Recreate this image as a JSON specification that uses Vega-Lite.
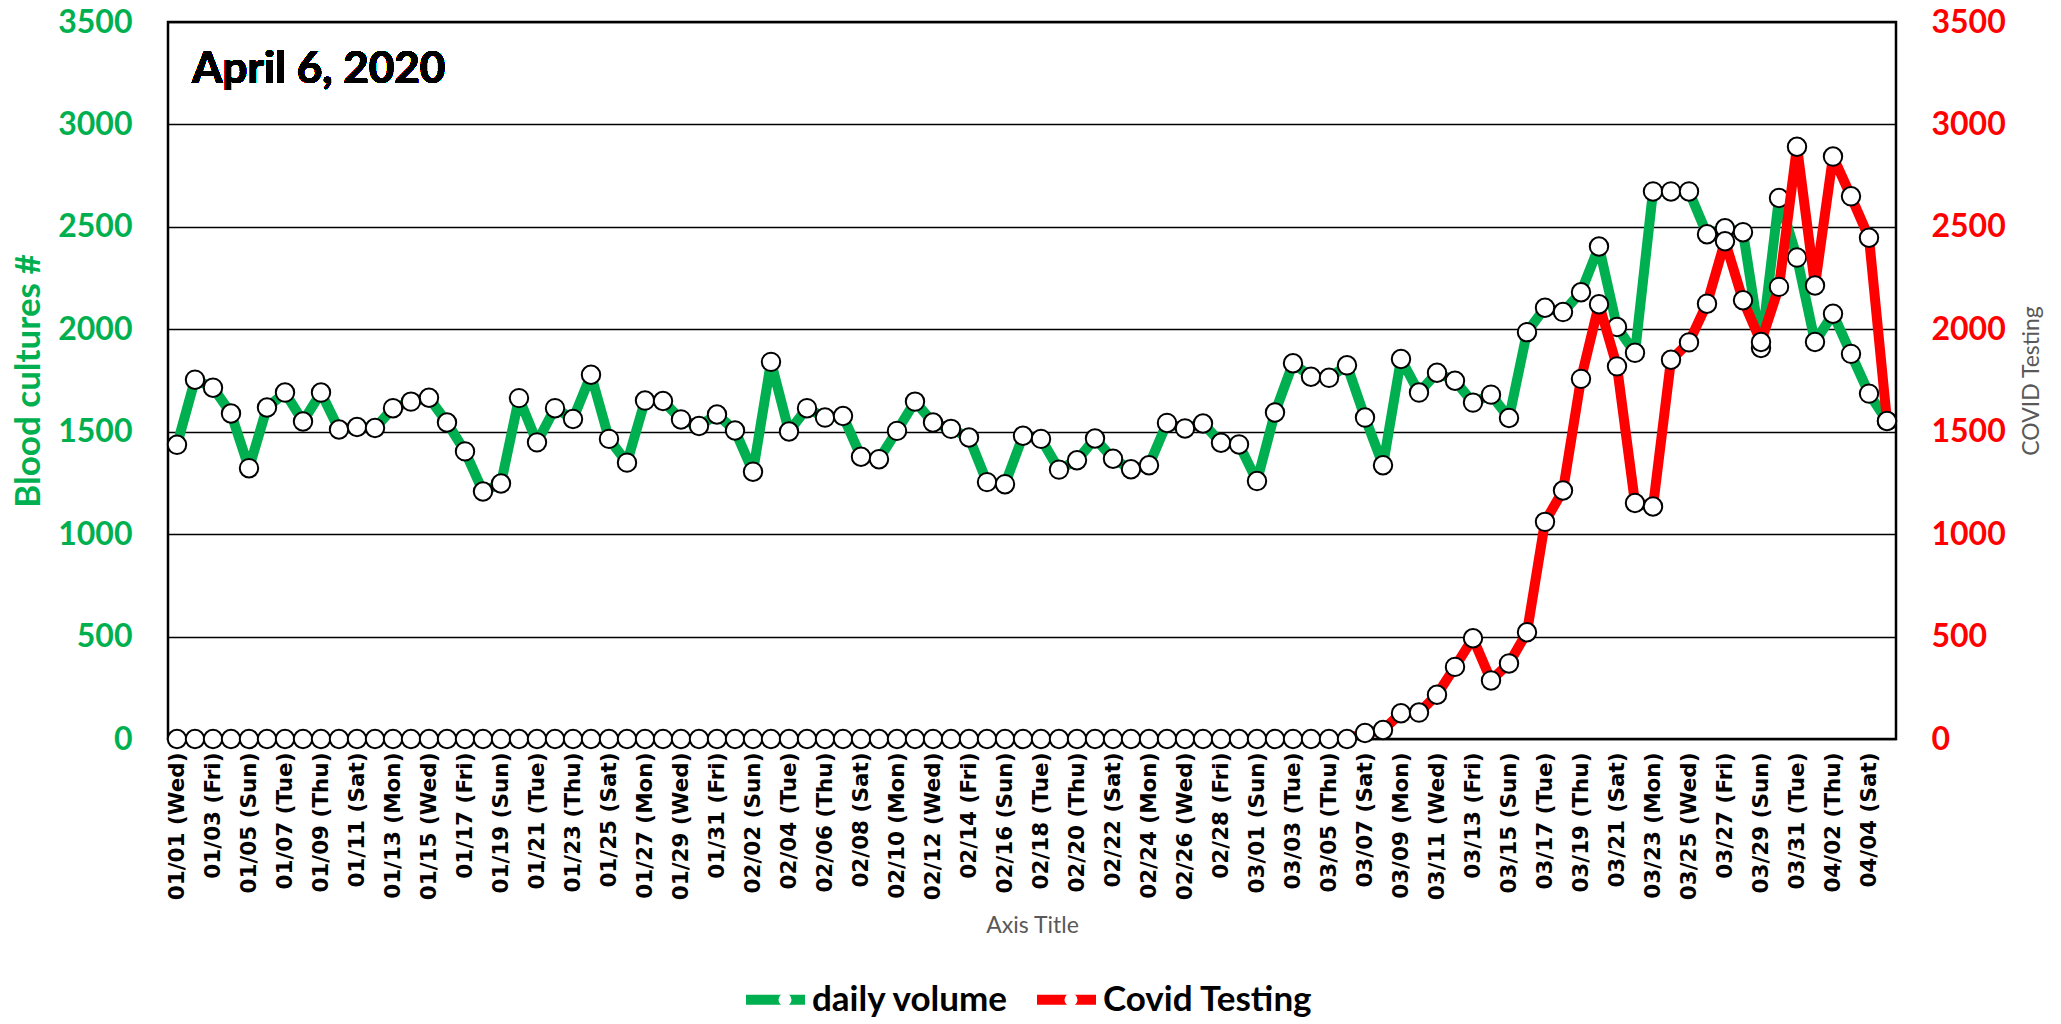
{
  "$schema": "https://vega.github.io/schema/vega-lite/v6.json",
  "width": 1728,
  "height": 717,
  "autosize": {"type": "none"},
  "padding": {"left": 168, "top": 22, "right": 165, "bottom": 285},
  "background": "white",
  "config": {"view": {"stroke": "black", "strokeWidth": 2.5}},
  "data": {"values": [
    {"d":"01/01 (Wed)","vol":1436,"covid":0},{"d":"01/02 (Thu)","vol":1754,"covid":0},{"d":"01/03 (Fri)","vol":1715,"covid":0},{"d":"01/04 (Sat)","vol":1589,"covid":0},
    {"d":"01/05 (Sun)","vol":1322,"covid":0},{"d":"01/06 (Mon)","vol":1618,"covid":0},{"d":"01/07 (Tue)","vol":1691,"covid":0},{"d":"01/08 (Wed)","vol":1550,"covid":0},
    {"d":"01/09 (Thu)","vol":1691,"covid":0},{"d":"01/10 (Fri)","vol":1511,"covid":0},{"d":"01/11 (Sat)","vol":1523,"covid":0},{"d":"01/12 (Sun)","vol":1518,"covid":0},
    {"d":"01/13 (Mon)","vol":1615,"covid":0},{"d":"01/14 (Tue)","vol":1647,"covid":0},{"d":"01/15 (Wed)","vol":1666,"covid":0},{"d":"01/16 (Thu)","vol":1545,"covid":0},
    {"d":"01/17 (Fri)","vol":1404,"covid":0},{"d":"01/18 (Sat)","vol":1208,"covid":0},{"d":"01/19 (Sun)","vol":1247,"covid":0},{"d":"01/20 (Mon)","vol":1664,"covid":0},
    {"d":"01/21 (Tue)","vol":1448,"covid":0},{"d":"01/22 (Wed)","vol":1615,"covid":0},{"d":"01/23 (Thu)","vol":1562,"covid":0},{"d":"01/24 (Fri)","vol":1778,"covid":0},
    {"d":"01/25 (Sat)","vol":1465,"covid":0},{"d":"01/26 (Sun)","vol":1349,"covid":0},{"d":"01/27 (Mon)","vol":1652,"covid":0},{"d":"01/28 (Tue)","vol":1650,"covid":0},
    {"d":"01/29 (Wed)","vol":1560,"covid":0},{"d":"01/30 (Thu)","vol":1528,"covid":0},{"d":"01/31 (Fri)","vol":1584,"covid":0},{"d":"02/01 (Sat)","vol":1506,"covid":0},
    {"d":"02/02 (Sun)","vol":1305,"covid":0},{"d":"02/03 (Mon)","vol":1841,"covid":0},{"d":"02/04 (Tue)","vol":1501,"covid":0},{"d":"02/05 (Wed)","vol":1615,"covid":0},
    {"d":"02/06 (Thu)","vol":1569,"covid":0},{"d":"02/07 (Fri)","vol":1577,"covid":0},{"d":"02/08 (Sat)","vol":1378,"covid":0},{"d":"02/09 (Sun)","vol":1366,"covid":0},
    {"d":"02/10 (Mon)","vol":1504,"covid":0},{"d":"02/11 (Tue)","vol":1647,"covid":0},{"d":"02/12 (Wed)","vol":1545,"covid":0},{"d":"02/13 (Thu)","vol":1514,"covid":0},
    {"d":"02/14 (Fri)","vol":1472,"covid":0},{"d":"02/15 (Sat)","vol":1254,"covid":0},{"d":"02/16 (Sun)","vol":1244,"covid":0},{"d":"02/17 (Mon)","vol":1480,"covid":0},
    {"d":"02/18 (Tue)","vol":1465,"covid":0},{"d":"02/19 (Wed)","vol":1315,"covid":0},{"d":"02/20 (Thu)","vol":1361,"covid":0},{"d":"02/21 (Fri)","vol":1467,"covid":0},
    {"d":"02/22 (Sat)","vol":1368,"covid":0},{"d":"02/23 (Sun)","vol":1317,"covid":0},{"d":"02/24 (Mon)","vol":1336,"covid":0},{"d":"02/25 (Tue)","vol":1543,"covid":0},
    {"d":"02/26 (Wed)","vol":1516,"covid":0},{"d":"02/27 (Thu)","vol":1540,"covid":0},{"d":"02/28 (Fri)","vol":1446,"covid":0},{"d":"02/29 (Sat)","vol":1438,"covid":0},
    {"d":"03/01 (Sun)","vol":1259,"covid":0},{"d":"03/02 (Mon)","vol":1594,"covid":0},{"d":"03/03 (Tue)","vol":1834,"covid":0},{"d":"03/04 (Wed)","vol":1768,"covid":0},
    {"d":"03/05 (Thu)","vol":1763,"covid":0},{"d":"03/06 (Fri)","vol":1824,"covid":0},{"d":"03/07 (Sat)","vol":1569,"covid":29},{"d":"03/08 (Sun)","vol":1336,"covid":44},
    {"d":"03/09 (Mon)","vol":1855,"covid":126},{"d":"03/10 (Tue)","vol":1691,"covid":129},{"d":"03/11 (Wed)","vol":1788,"covid":216},{"d":"03/12 (Thu)","vol":1749,"covid":352},
    {"d":"03/13 (Fri)","vol":1642,"covid":492},{"d":"03/14 (Sat)","vol":1681,"covid":286},{"d":"03/15 (Sun)","vol":1567,"covid":369},{"d":"03/16 (Mon)","vol":1986,"covid":521},
    {"d":"03/17 (Tue)","vol":2105,"covid":1060},{"d":"03/18 (Wed)","vol":2084,"covid":1213},{"d":"03/19 (Thu)","vol":2181,"covid":1758},{"d":"03/20 (Fri)","vol":2404,"covid":2122},
    {"d":"03/21 (Sat)","vol":2011,"covid":1819},{"d":"03/22 (Sun)","vol":1885,"covid":1152},{"d":"03/23 (Mon)","vol":2673,"covid":1135},{"d":"03/24 (Tue)","vol":2673,"covid":1851},
    {"d":"03/25 (Wed)","vol":2673,"covid":1936},{"d":"03/26 (Thu)","vol":2464,"covid":2125},{"d":"03/27 (Fri)","vol":2493,"covid":2430},{"d":"03/28 (Sat)","vol":2474,"covid":2142},
    {"d":"03/29 (Sun)","vol":1909,"covid":1938},{"d":"03/30 (Mon)","vol":2641,"covid":2207},{"d":"03/31 (Tue)","vol":2350,"covid":2891},{"d":"04/01 (Wed)","vol":1938,"covid":2214},
    {"d":"04/02 (Thu)","vol":2076,"covid":2843},{"d":"04/03 (Fri)","vol":1880,"covid":2649},{"d":"04/04 (Sat)","vol":1686,"covid":2447},{"d":"04/05 (Sun)","vol":1552,"covid":1552}
  ]},
  "encoding": {
    "x": {
      "field": "d", "type": "ordinal", "sort": null,
      "scale": {"type": "point", "padding": 0.5},
      "axis": {
        "values": ["01/01 (Wed)","01/03 (Fri)","01/05 (Sun)","01/07 (Tue)","01/09 (Thu)","01/11 (Sat)","01/13 (Mon)","01/15 (Wed)","01/17 (Fri)","01/19 (Sun)","01/21 (Tue)","01/23 (Thu)","01/25 (Sat)","01/27 (Mon)","01/29 (Wed)","01/31 (Fri)","02/02 (Sun)","02/04 (Tue)","02/06 (Thu)","02/08 (Sat)","02/10 (Mon)","02/12 (Wed)","02/14 (Fri)","02/16 (Sun)","02/18 (Tue)","02/20 (Thu)","02/22 (Sat)","02/24 (Mon)","02/26 (Wed)","02/28 (Fri)","03/01 (Sun)","03/03 (Tue)","03/05 (Thu)","03/07 (Sat)","03/09 (Mon)","03/11 (Wed)","03/13 (Fri)","03/15 (Sun)","03/17 (Tue)","03/19 (Thu)","03/21 (Sat)","03/23 (Mon)","03/25 (Wed)","03/27 (Fri)","03/29 (Sun)","03/31 (Tue)","04/02 (Thu)","04/04 (Sat)"],
        "labelAngle": 270, "labelFont": "DejaVu Sans", "labelFontWeight": "bold", "labelFontSize": 21.5,
        "labelColor": "black", "labelPadding": 13, "ticks": false, "domain": false, "grid": false,
        "title": "Axis Title", "titleFont": "Lato", "titleFontSize": 23, "titleFontWeight": "normal",
        "titleColor": "#595959", "titlePadding": 15
      }
    }
  },
  "layer": [
    {
      "encoding": {
        "y": {
          "field": "vol", "type": "quantitative",
          "scale": {"domain": [0, 3500], "nice": false},
          "axis": {
            "orient": "left", "values": [0,500,1000,1500,2000,2500,3000,3500], "format": "d",
            "grid": true, "gridColor": "black", "gridWidth": 1.5, "domain": false, "ticks": false,
            "labelFont": "Lato", "labelFontWeight": "bold", "labelFontSize": 32, "labelColor": "#00B050",
            "labelPadding": 36, "title": "Blood cultures #", "titleFont": "Lato", "titleFontWeight": "bold",
            "titleFontSize": 35, "titleColor": "#00B050", "titlePadding": 11
          }
        }
      },
      "layer": [
        {
          "mark": {"type": "line", "strokeWidth": 10, "strokeJoin": "round"},
          "encoding": {
            "color": {
              "datum": "daily volume",
              "scale": {"domain": ["daily volume", "Covid Testing"], "range": ["#00B050", "#FF0000"]},
              "legend": {
                "orient": "none", "legendX": 573, "legendY": 943, "direction": "horizontal", "title": null,
                "symbolType": "stroke", "symbolSize": 3481, "symbolStrokeWidth": 10,
                "labelFont": "Lato", "labelFontWeight": "bold", "labelFontSize": 35, "labelColor": "black",
                "labelOffset": 2, "columnPadding": 8, "labelLimit": 500
              }
            }
          }
        },
        {
          "mark": {"type": "point", "filled": true, "fill": "white", "stroke": "black", "strokeWidth": 2, "size": 340, "opacity": 1},
          "encoding": {
            "shape": {
              "datum": "daily volume",
              "scale": {"range": ["circle", "circle"]},
              "legend": {
                "orient": "none", "legendX": 599.5, "legendY": 960, "direction": "horizontal", "title": null,
                "values": ["daily volume", "Covid Testing"],
                "symbolType": "circle", "symbolSize": 170, "symbolStrokeWidth": 2,
                "symbolFillColor": "white", "symbolStrokeColor": "black", "symbolOpacity": 1,
                "labelFont": "Lato", "labelFontWeight": "bold", "labelFontSize": 35, "labelOpacity": 0,
                "labelOffset": 45.5, "columnPadding": 8, "labelLimit": 500,
                "encode": {
                  "symbols": {
                    "update": {
                      "fill": {"value": "white"},
                      "stroke": {"value": "black"},
                      "strokeWidth": {"value": 2},
                      "opacity": {"value": 1},
                      "fillOpacity": {"value": 1},
                      "strokeOpacity": {"value": 1}
                    }
                  }
                }
              }
            }
          }
        },
        {
          "mark": {"type": "text", "font": "Lato", "fontWeight": "bold", "fontSize": 44, "align": "left", "baseline": "alphabetic", "dx": -3, "color": "black"},
          "encoding": {
            "x": {"datum": "01/02 (Thu)"},
            "y": {"datum": 3200},
            "text": {"value": "April 6, 2020"}
          }
        }
      ]
    },
    {
      "encoding": {
        "y": {
          "field": "covid", "type": "quantitative",
          "scale": {"domain": [0, 3500], "nice": false},
          "axis": {
            "orient": "right", "values": [0,500,1000,1500,2000,2500,3000,3500], "format": "d",
            "grid": false, "domain": false, "ticks": false,
            "labelFont": "Lato", "labelFontWeight": "bold", "labelFontSize": 32, "labelColor": "#FF0000",
            "labelPadding": 35, "title": "COVID Testing", "titleFont": "Lato", "titleFontWeight": "normal",
            "titleFontSize": 23, "titleColor": "#595959", "titlePadding": 38, "titleAngle": 270
          }
        }
      },
      "layer": [
        {
          "mark": {"type": "line", "strokeWidth": 10, "strokeJoin": "round", "clip": true},
          "encoding": {"color": {"datum": "Covid Testing"}}
        },
        {
          "mark": {"type": "point", "filled": true, "fill": "white", "stroke": "black", "strokeWidth": 2, "size": 340, "opacity": 1},
          "encoding": {"shape": {"datum": "Covid Testing"}}
        }
      ]
    }
  ],
  "resolve": {"scale": {"y": "independent"}}
}
